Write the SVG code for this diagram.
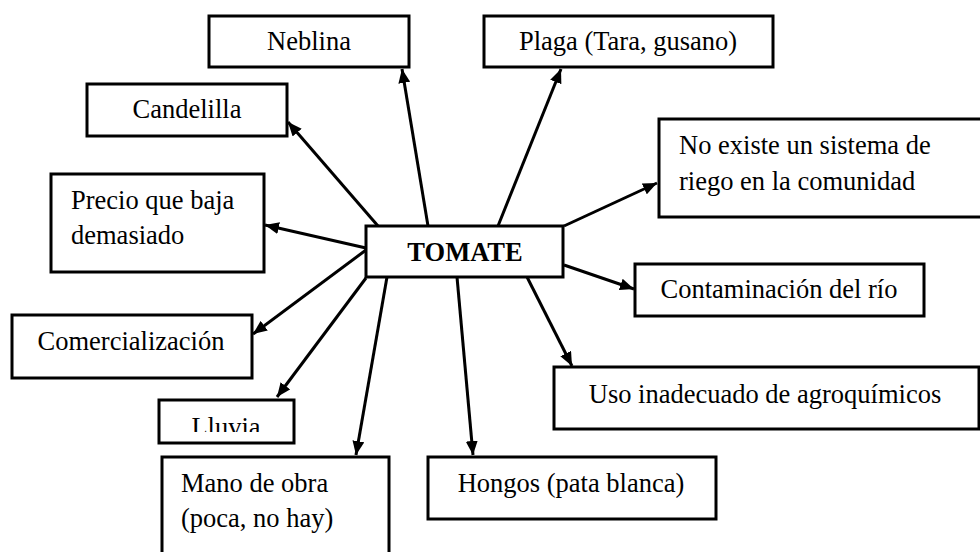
<svg xmlns="http://www.w3.org/2000/svg" width="980" height="552" viewBox="0 0 980 552">
<style>
.box{fill:#fff;stroke:#000;stroke-width:3}
.t{font-family:"Liberation Serif","Times New Roman",serif;font-size:26.5px;fill:#000}
.c{text-anchor:middle}
.b{font-weight:bold}
.con line{stroke:#000;stroke-width:3;marker-end:url(#ah)}
</style>
<defs>
<marker id="ah" viewBox="0 0 14 12" refX="14" refY="6" markerWidth="14" markerHeight="12" markerUnits="userSpaceOnUse" orient="auto">
<path d="M0,0 L14,6 L0,12 z" fill="#000"/>
</marker>
<clipPath id="clipL"><rect x="158" y="399" width="136" height="33"/></clipPath>
</defs>
<rect width="980" height="552" fill="#fff"/>
<g class="con">
<line x1="378" y1="226" x2="288" y2="122"/>
<line x1="428" y1="226" x2="402" y2="69"/>
<line x1="498" y1="226" x2="561" y2="69"/>
<line x1="564" y1="226" x2="657" y2="183"/>
<line x1="564" y1="265" x2="634" y2="289"/>
<line x1="527" y1="277" x2="572" y2="366"/>
<line x1="457" y1="277" x2="473" y2="455"/>
<line x1="387" y1="277" x2="356" y2="455"/>
<line x1="366" y1="278" x2="277" y2="397"/>
<line x1="366" y1="250" x2="253" y2="334"/>
<line x1="366" y1="248" x2="265" y2="225"/>
</g>
<g id="neblina"><rect class="box" x="209" y="16" width="200" height="51"/><text class="t c" x="309" y="50">Neblina</text></g>
<g id="candelilla"><rect class="box" x="87" y="84" width="200" height="52"/><text class="t c" x="187" y="118">Candelilla</text></g>
<g id="precio"><rect class="box" x="51" y="174" width="213" height="98"/><text class="t" x="71" y="209">Precio que baja</text><text class="t" x="71" y="244">demasiado</text></g>
<g id="plaga"><rect class="box" x="484" y="16" width="289" height="51"/><text class="t c" x="628" y="50">Plaga (Tara, gusano)</text></g>
<g id="noexiste"><rect class="box" x="659" y="119" width="330" height="98"/><text class="t" x="679" y="154">No existe un sistema de</text><text class="t" x="679" y="190">riego en la comunidad</text></g>
<g id="tomate"><rect class="box" x="366" y="226" width="197" height="51"/><text class="t c b" x="465" y="261">TOMATE</text></g>
<g id="contaminacion"><rect class="box" x="635" y="264" width="289" height="52"/><text class="t c" x="779" y="298">Contaminación del río</text></g>
<g id="comercializacion"><rect class="box" x="12" y="315" width="240" height="63"/><text class="t c" x="131" y="350">Comercialización</text></g>
<g id="uso"><rect class="box" x="554" y="367" width="425" height="62"/><text class="t c" x="765" y="403">Uso inadecuado de agroquímicos</text></g>
<g id="lluvia"><rect class="box" x="159" y="400" width="135" height="43"/><text class="t c" x="226" y="436" clip-path="url(#clipL)">Lluvia</text></g>
<g id="mano"><rect class="box" x="162" y="457" width="227" height="100"/><text class="t" x="181" y="492">Mano de obra</text><text class="t" x="181" y="527">(poca, no hay)</text></g>
<g id="hongos"><rect class="box" x="428" y="457" width="288" height="62"/><text class="t c" x="571" y="492">Hongos (pata blanca)</text></g>
</svg>
